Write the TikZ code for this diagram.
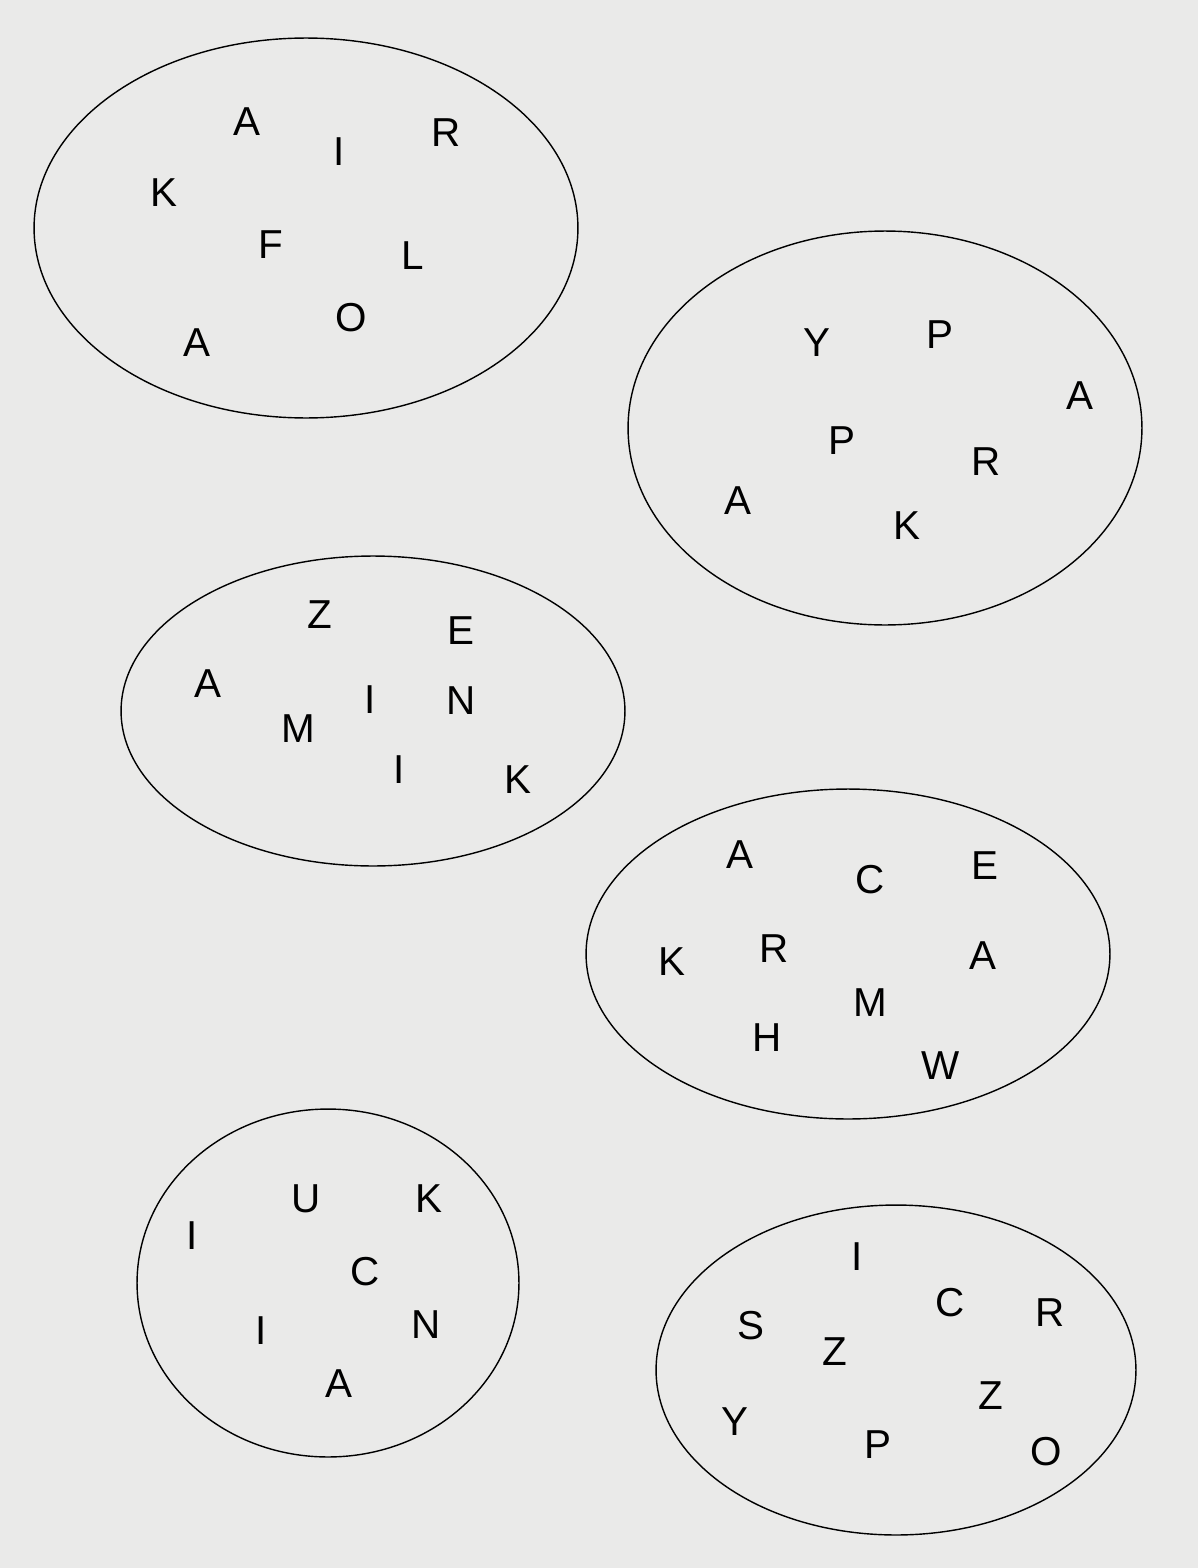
\documentclass[tikz,border=0pt]{standalone}
\usepackage{fontspec}
\setmainfont{Liberation Sans}
\usetikzlibrary{shapes.geometric}
\definecolor{paper}{RGB}{234,234,233}
\begin{document}
\begin{tikzpicture}[x=0.02cm, y=-0.02cm,
  set/.style={ellipse, draw=black, line width=0.8pt, inner sep=0pt},
  lt/.style={inner sep=0pt, font=\fontsize{23}{23}\selectfont}]
  \fill[paper] (0,0) rectangle (1198,1568);
  \useasboundingbox (0,0) rectangle (1198,1568);
  % set 1
  \node[set, minimum width=10.88cm, minimum height=7.6cm] (s1) at (306,228) {};
  \node[lt] (s1a) at (247,122) {A};
  \node[lt] (s1b) at (339,152) {I};
  \node[lt] (s1c) at (446,133) {R};
  \node[lt] (s1d) at (164,193) {K};
  \node[lt] (s1e) at (271,245) {F};
  \node[lt] (s1f) at (413,256) {L};
  \node[lt] (s1g) at (351,318) {O};
  \node[lt] (s1h) at (197,343) {A};
  % set 2
  \node[set, minimum width=10.28cm, minimum height=7.88cm] (s2) at (885,428) {};
  \node[lt] (s2a) at (817,343) {Y};
  \node[lt] (s2b) at (940,335) {P};
  \node[lt] (s2c) at (1080,396) {A};
  \node[lt] (s2d) at (842,441) {P};
  \node[lt] (s2e) at (986,462) {R};
  \node[lt] (s2f) at (738,501) {A};
  \node[lt] (s2g) at (907,526) {K};
  % set 3
  \node[set, minimum width=10.08cm, minimum height=6.2cm] (s3) at (373,711) {};
  \node[lt] (s3a) at (320,615) {Z};
  \node[lt] (s3b) at (461,631) {E};
  \node[lt] (s3c) at (208,684) {A};
  \node[lt] (s3d) at (370,700) {I};
  \node[lt] (s3e) at (461,701) {N};
  \node[lt] (s3f) at (298,729) {M};
  \node[lt] (s3g) at (399,770) {I};
  \node[lt] (s3h) at (518,780) {K};
  % set 4
  \node[set, minimum width=10.48cm, minimum height=6.6cm] (s4) at (848,954) {};
  \node[lt] (s4a) at (740,855) {A};
  \node[lt] (s4b) at (870,880) {C};
  \node[lt] (s4c) at (985,866) {E};
  \node[lt] (s4d) at (672,962) {K};
  \node[lt] (s4e) at (774,949) {R};
  \node[lt] (s4f) at (983,956) {A};
  \node[lt] (s4g) at (870,1003) {M};
  \node[lt] (s4h) at (767,1038) {H};
  \node[lt] (s4i) at (941,1066) {W};
  % set 5
  \node[set, minimum width=7.64cm, minimum height=6.96cm] (s5) at (328,1283) {};
  \node[lt] (s5a) at (306,1199) {U};
  \node[lt] (s5b) at (429,1199) {K};
  \node[lt] (s5c) at (192,1236) {I};
  \node[lt] (s5d) at (365,1272) {C};
  \node[lt] (s5e) at (426,1325) {N};
  \node[lt] (s5f) at (261,1331) {I};
  \node[lt] (s5g) at (339,1384) {A};
  % set 6
  \node[set, minimum width=9.6cm, minimum height=6.6cm] (s6) at (896,1370) {};
  \node[lt] (s6a) at (857,1257) {I};
  \node[lt] (s6b) at (950,1303) {C};
  \node[lt] (s6c) at (1050,1313) {R};
  \node[lt] (s6d) at (751,1326) {S};
  \node[lt] (s6e) at (835,1352) {Z};
  \node[lt] (s6f) at (991,1396) {Z};
  \node[lt] (s6g) at (735,1422) {Y};
  \node[lt] (s6h) at (878,1445) {P};
  \node[lt] (s6i) at (1046,1452) {O};
\end{tikzpicture}
\end{document}
